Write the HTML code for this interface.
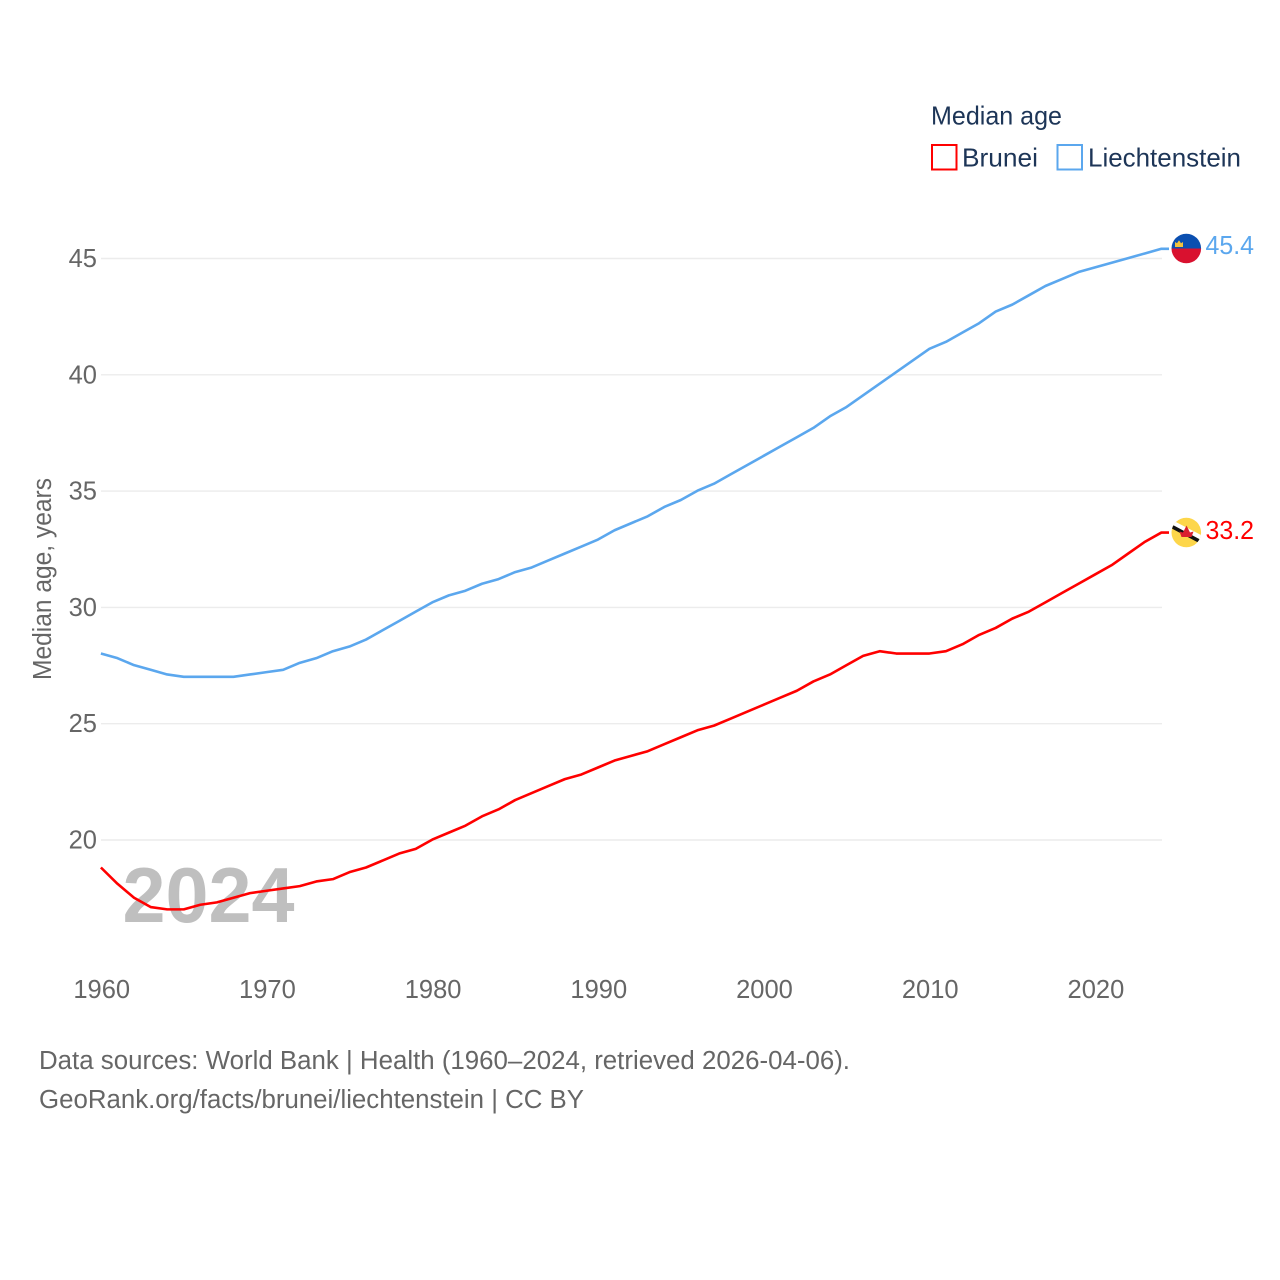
<!DOCTYPE html>
<html lang="en">
<head>
<meta charset="utf-8">
<title>Median age: Brunei and Liechtenstein</title>
<style>
html,body{margin:0;padding:0;background:#fff;}
svg{display:block;font-family:"Liberation Sans",sans-serif;}
</style>
</head>
<body>
<svg id="chart" width="1280" height="1280" viewBox="0 0 1280 1280" xmlns="http://www.w3.org/2000/svg">
  <rect x="0" y="0" width="1280" height="1280" fill="#fff"/>
  <g id="grid"></g>
  <g id="yticks"></g>
  <g id="xticks"></g>
  <text transform="translate(51,680) rotate(-90)" font-size="25.5" fill="#666" textLength="202" lengthAdjust="spacingAndGlyphs">Median age, years</text>
  <text x="122.5" y="922" font-size="78" font-weight="700" fill="#bfbfbf" textLength="172" lengthAdjust="spacingAndGlyphs">2024</text>
  <g id="series"></g>

  <g>
    <text x="931" y="124.5" font-size="26" fill="#1d3557" textLength="131" lengthAdjust="spacingAndGlyphs">Median age</text>
    <g>
      <rect x="932" y="145" width="24.5" height="24.5" fill="#fff" stroke="#ff0000" stroke-width="2"/>
      <text x="962" y="166.5" font-size="26" fill="#1d3557" textLength="76" lengthAdjust="spacingAndGlyphs">Brunei</text>
    </g>
    <g>
      <rect x="1057.5" y="145" width="24.5" height="24.5" fill="#fff" stroke="#5ba7ee" stroke-width="2"/>
      <text x="1088" y="166.5" font-size="26" fill="#1d3557" textLength="153" lengthAdjust="spacingAndGlyphs">Liechtenstein</text>
    </g>
  </g>

  <g>
    <path d="M1171.5 248.5a14.8 14.8 0 0 1 29.6 0z" fill="#0b4fb0"/>
    <path d="M1171.5 248.5a14.8 14.8 0 0 0 29.6 0z" fill="#d9112f"/>
    <path d="M1175 247v-5l2 1.2 2-3 2 3 2-1.2v5z" fill="#f2c33c"/>
  </g>
  <g>
    <clipPath id="brunei-clip"><circle cx="1186.3" cy="532.5" r="14.8"/></clipPath>
    <circle cx="1186.3" cy="532.5" r="14.8" fill="#fdd64a"/>
    <g clip-path="url(#brunei-clip)">
      <path d="M1170 521.5L1202 538" stroke="#fff" stroke-width="4.5" fill="none"/>
      <path d="M1170 525.5L1202 542.5" stroke="#111" stroke-width="3.6" fill="none"/>
      <path d="M1186.5 525.5l2 4 1.5 3 3.5-1-2 5.5h-10l-2-5.5 3.5 1 1.5-3z" fill="#d9202f"/>
    </g>
  </g>

  <text x="1205.5" y="254" font-size="25.5" fill="#5ba7ee" textLength="48.5" lengthAdjust="spacingAndGlyphs">45.4</text>
  <text x="1205.5" y="539" font-size="25.5" fill="#ff0000" textLength="48.5" lengthAdjust="spacingAndGlyphs">33.2</text>

  <text x="39" y="1069" font-size="25.5" fill="#666" textLength="811" lengthAdjust="spacingAndGlyphs">Data sources: World Bank | Health (1960–2024, retrieved 2026-04-06).</text>
  <text x="39" y="1108" font-size="25.5" fill="#666" textLength="545" lengthAdjust="spacingAndGlyphs">GeoRank.org/facts/brunei/liechtenstein | CC BY</text>
</svg>
<script>
const startYear = 1960;
const bruneiValues = [18.8,18.1,17.5,17.1,17.0,17.0,17.2,17.3,17.5,17.7,17.8,17.9,18.0,18.2,18.3,18.6,18.8,19.1,19.4,19.6,20.0,20.3,20.6,21.0,21.3,21.7,22.0,22.3,22.6,22.8,23.1,23.4,23.6,23.8,24.1,24.4,24.7,24.9,25.2,25.5,25.8,26.1,26.4,26.8,27.1,27.5,27.9,28.1,28.0,28.0,28.0,28.1,28.4,28.8,29.1,29.5,29.8,30.2,30.6,31.0,31.4,31.8,32.3,32.8,33.2];
const liechtensteinValues = [28.0,27.8,27.5,27.3,27.1,27.0,27.0,27.0,27.0,27.1,27.2,27.3,27.6,27.8,28.1,28.3,28.6,29.0,29.4,29.8,30.2,30.5,30.7,31.0,31.2,31.5,31.7,32.0,32.3,32.6,32.9,33.3,33.6,33.9,34.3,34.6,35.0,35.3,35.7,36.1,36.5,36.9,37.3,37.7,38.2,38.6,39.1,39.6,40.1,40.6,41.1,41.4,41.8,42.2,42.7,43.0,43.4,43.8,44.1,44.4,44.6,44.8,45.0,45.2,45.4];
const yTickValues = [20,25,30,35,40,45];
const xTickValues = [1960,1970,1980,1990,2000,2010,2020];

const NS = 'http://www.w3.org/2000/svg';
function xScale(year){ return 100.9 + (year - 1960) * 16.57; }
function yScale(v){ return 839.6 - (v - 20) * 23.26; }
function gridY(v){ return 840 - (v - 20) * 23.26; }

const gridGroup = document.getElementById('grid');
const yGroup = document.getElementById('yticks');
const xGroup = document.getElementById('xticks');
const seriesGroup = document.getElementById('series');

yTickValues.forEach(function(v){
  const line = document.createElementNS(NS, 'line');
  
  
  line.setAttribute('x1', 101);
  line.setAttribute('x2', 1162);
  line.setAttribute('y1', gridY(v));
  line.setAttribute('y2', gridY(v));
  line.setAttribute('stroke', '#ececec');
  line.setAttribute('stroke-width', '1.4');
  gridGroup.appendChild(line);

  const label = document.createElementNS(NS, 'text');
  
  
  label.setAttribute('x', 97);
  label.setAttribute('y', gridY(v) + 8.5);
  label.setAttribute('text-anchor', 'end');
  label.setAttribute('font-size', '25.5');
  label.setAttribute('fill', '#666');
  label.textContent = v;
  yGroup.appendChild(label);
});

xTickValues.forEach(function(y){
  const label = document.createElementNS(NS, 'text');
  
  
  label.setAttribute('x', xScale(y) + 0.8);
  label.setAttribute('y', 998);
  label.setAttribute('text-anchor', 'middle');
  label.setAttribute('font-size', '25.5');
  label.setAttribute('fill', '#666');
  label.textContent = y;
  xGroup.appendChild(label);
});

function drawSeries(values, color, name){
  const points = values.map(function(v, i){
    return xScale(startYear + i).toFixed(2) + ',' + yScale(v).toFixed(2);
  });
  const lastY = yScale(values[values.length - 1]).toFixed(2);
  points.push('1169,' + lastY);
  const line = document.createElementNS(NS, 'polyline');
  
  
  line.setAttribute('points', points.join(' '));
  line.setAttribute('fill', 'none');
  line.setAttribute('stroke', color);
  line.setAttribute('stroke-width', '2.6');
  line.setAttribute('stroke-linejoin', 'round');
  seriesGroup.appendChild(line);
}
drawSeries(liechtensteinValues, '#5ba7ee', 'liechtenstein');
drawSeries(bruneiValues, '#ff0000', 'brunei');
</script>
</body>
</html>
